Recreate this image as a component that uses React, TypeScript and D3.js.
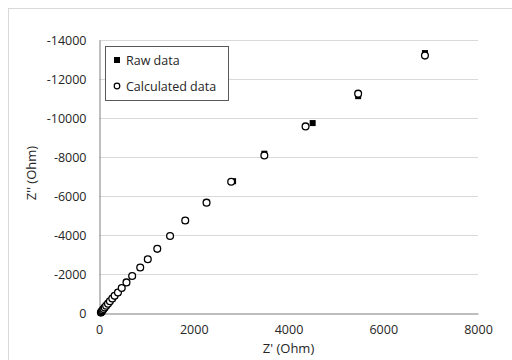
import * as d3 from "d3";
import { useRef, useEffect } from "react";

// real part Z' (Ohm) of the calculated points
const calcRe = [40, 50, 60, 75, 95, 120, 150, 190, 230, 280, 330, 400, 480, 580, 700, 870, 1030, 1230, 1500, 1820, 2270, 2790, 3490, 4360, 5470, 6880];
// imaginary part Z'' (Ohm) of the calculated points
const calcIm = [-20, -50, -90, -140, -200, -280, -370, -480, -600, -740, -880, -1050, -1280, -1570, -1900, -2330, -2760, -3290, -3950, -4740, -5660, -6730, -8080, -9570, -11250, -13200];

// raw measured points
const rawRe = [40, 50, 60, 75, 95, 120, 150, 190, 230, 280, 330, 400, 480, 580, 700, 870, 1030, 1230, 1500, 1820, 2270, 2830, 3490, 4510, 5470, 6880];
const rawIm = [-20, -50, -90, -140, -200, -280, -370, -480, -600, -740, -880, -1050, -1280, -1570, -1900, -2330, -2760, -3290, -3950, -4740, -5660, -6760, -8170, -9740, -11120, -13330];

const xTicks = [0, 2000, 4000, 6000, 8000];
const yTicks = [0, -2000, -4000, -6000, -8000, -10000, -12000, -14000];
const legendLabels = ["Raw data", "Calculated data"];

export default function App() {
    const svgRef = useRef<SVGSVGElement>(null);

    useEffect(() => {
        const svg = d3.select(svgRef.current);
        svg.selectAll("*").remove();

        const font = "'Open Sans', sans-serif";
        const left = 99, right = 478, top = 40, bottom = 313;

        // chart border
        svg.append("rect").attr("x", 8.5).attr("y", 8.5).attr("width", 520).attr("height", 370)
            .attr("fill", "white").attr("stroke", "#d9d9d9");

        const x = d3.scaleLinear().domain([0, 8000]).range([left, right]);
        const y = d3.scaleLinear().domain([0, -14000]).range([bottom, top]);

        // gridlines
        svg.append("g").selectAll("line").data(yTicks.slice(1)).enter().append("line")
            .attr("x1", left).attr("x2", right)
            .attr("y1", d => Math.round(y(d)) + 0.5).attr("y2", d => Math.round(y(d)) + 0.5)
            .attr("stroke", "#d9d9d9").attr("stroke-width", 1);

        // axes
        const xAxis = svg.append("g").attr("transform", `translate(0,${bottom + 0.5})`)
            .call(d3.axisBottom(x).tickValues(xTicks).tickSize(0).tickPadding(12).tickFormat(d => String(d)));
        const yAxis = svg.append("g").attr("transform", `translate(${left + 0.5},0)`)
            .call(d3.axisLeft(y).tickValues(yTicks).tickSize(0).tickPadding(13).tickFormat(d => String(d)));
        [xAxis, yAxis].forEach(a => {
            a.select(".domain").attr("stroke", "#7f7f7f");
            a.selectAll("text").attr("font-family", font).attr("font-size", 12.5).attr("fill", "#262626");
        });

        // raw data squares
        svg.append("g").selectAll("rect").data(d3.range(rawRe.length)).enter().append("rect")
            .attr("x", i => x(rawRe[i]) - 3).attr("y", i => y(rawIm[i]) - 3)
            .attr("width", 6).attr("height", 6).attr("fill", "black");

        // calculated data circles
        svg.append("g").selectAll("circle").data(d3.range(calcRe.length)).enter().append("circle")
            .attr("cx", i => x(calcRe[i])).attr("cy", i => y(calcIm[i])).attr("r", 3.4)
            .attr("fill", "white").attr("stroke", "black").attr("stroke-width", 1.3);

        // axis titles
        svg.append("text").attr("x", (left + right) / 2).attr("y", 353).attr("text-anchor", "middle")
            .attr("font-family", font).attr("font-size", 13).attr("fill", "#262626").text("Z' (Ohm)");
        svg.append("text").attr("transform", `translate(36,173) rotate(-90)`)
            .attr("text-anchor", "middle").attr("font-family", font).attr("font-size", 13)
            .attr("fill", "#262626").text("Z'' (Ohm)");

        // legend
        const lg = svg.append("g");
        lg.append("rect").attr("x", 105.5).attr("y", 46.5).attr("width", 123).attr("height", 54)
            .attr("fill", "white").attr("stroke", "#595959");
        lg.append("rect").attr("x", 114).attr("y", 57).attr("width", 6).attr("height", 6).attr("fill", "black");
        lg.append("circle").attr("cx", 117).attr("cy", 86).attr("r", 2.8)
            .attr("fill", "white").attr("stroke", "black").attr("stroke-width", 1.2);
        lg.selectAll("text").data(legendLabels).enter().append("text")
            .attr("x", 126).attr("y", (d, i) => 64.5 + i * 26)
            .attr("font-family", font).attr("font-size", 12.5).attr("fill", "#262626").text(d => d);
    }, []);

    return (
        <svg ref={svgRef} width={512} height={360}
            style={{ position: "absolute", left: 0, top: 0, background: "white" }} />
    );
}
